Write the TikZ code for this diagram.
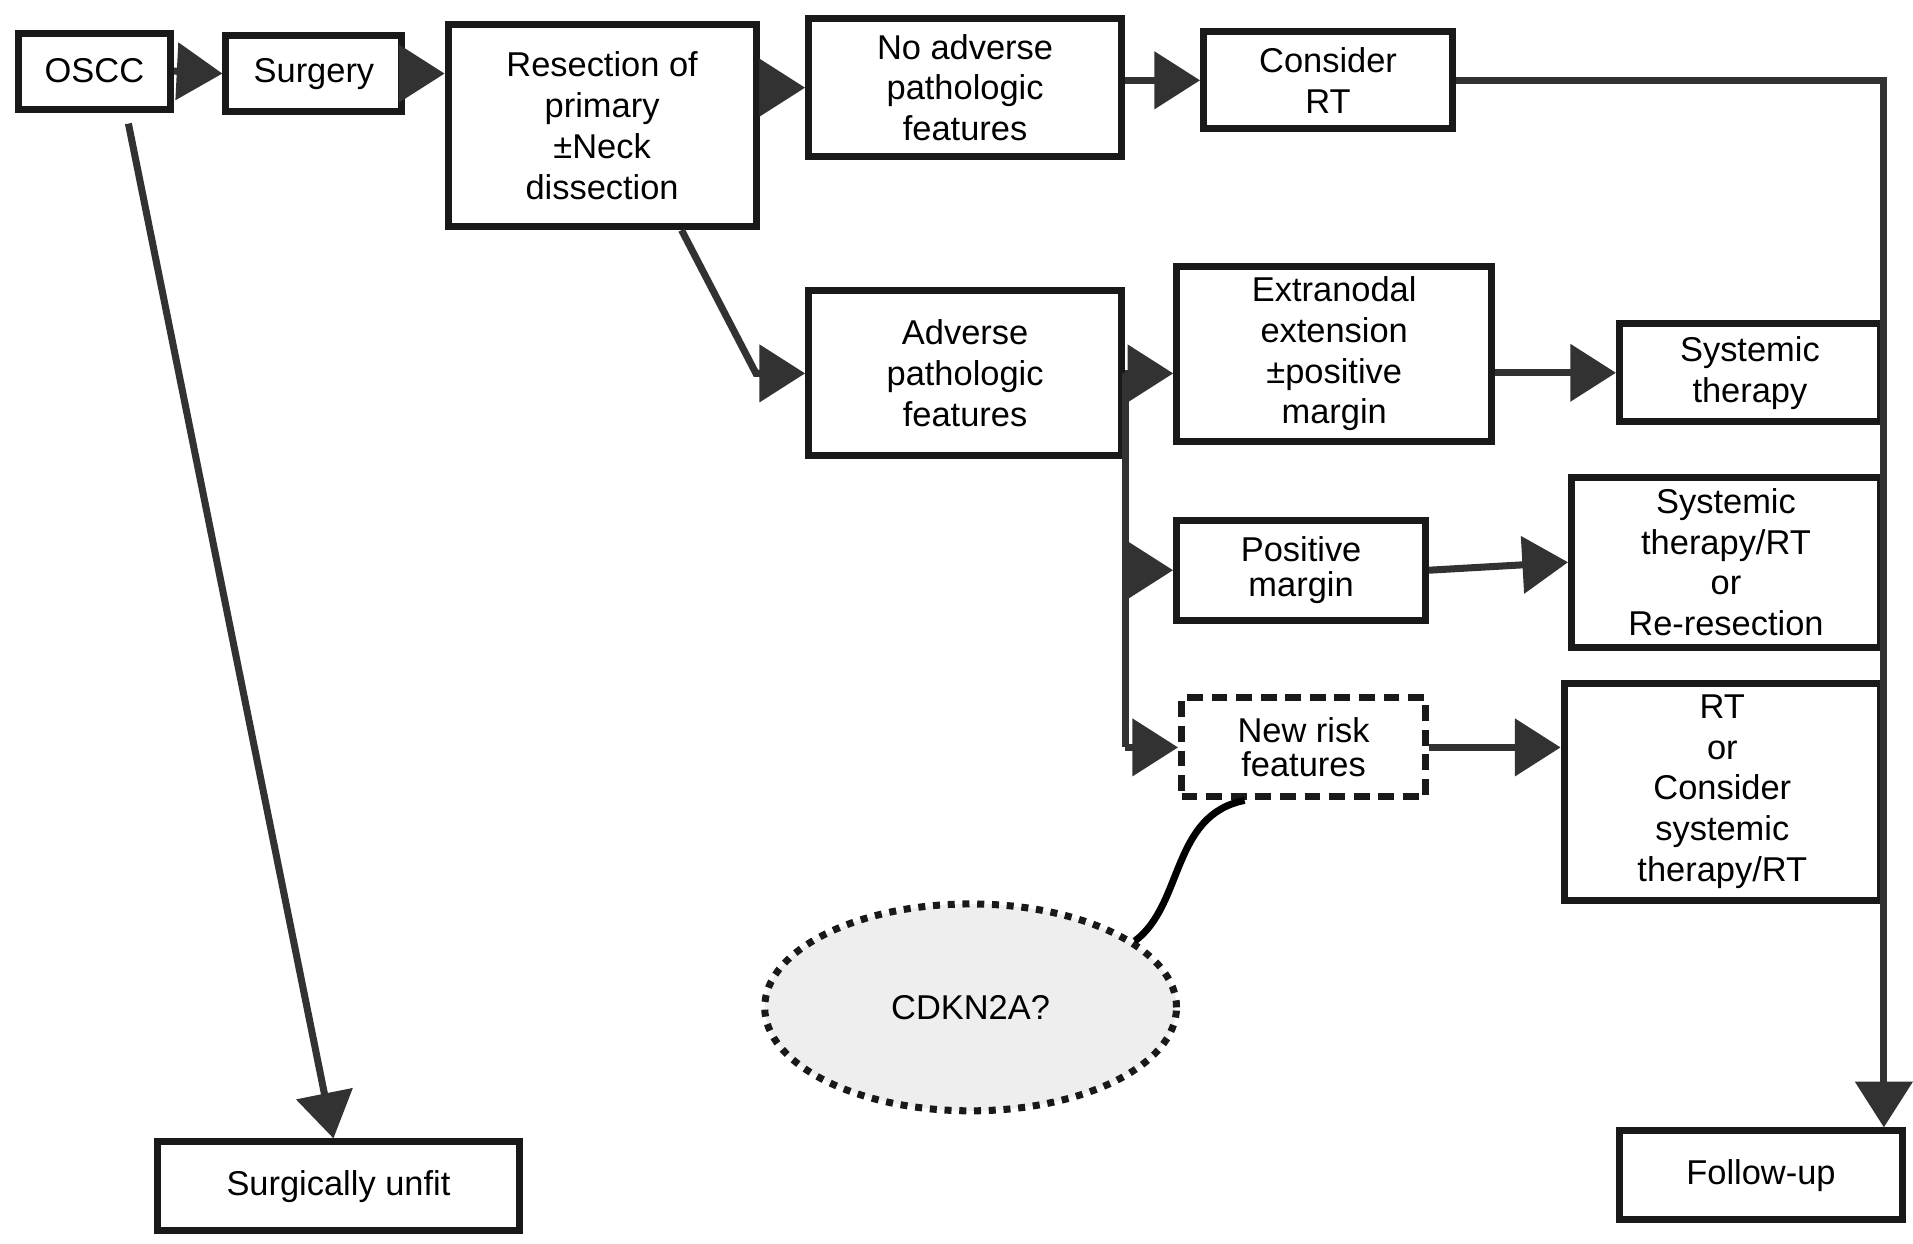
\documentclass[tikz,border=0pt]{standalone}
\usepackage{fontspec}
\setmainfont{Liberation Sans}
\usetikzlibrary{shapes.geometric, arrows.meta, positioning, calc}
\usepackage{xcolor}
\definecolor{boxblack}{RGB}{25,25,25}
\definecolor{linegray}{RGB}{50,50,50}
\definecolor{cdkfill}{RGB}{238,238,238}
\tikzstyle{box} = [draw=boxblack, line width=2pt, align=center, inner sep=2pt, font=\fontsize{9.8}{11.6}\selectfont]
\tikzstyle{tightbox} = [box, font=\fontsize{9.8}{9.8}\selectfont]
\tikzstyle{arrow} = [line width=2pt, linegray, -{Triangle[length=13pt,width=16pt]}]
\tikzstyle{flowline} = [line width=2pt, linegray]

\begin{document}
\begin{tikzpicture}[x=0.012263cm, y=-0.012263cm]
\useasboundingbox (0,0) rectangle (1560,1014.4);

% Top row
\node[box, minimum width=1.52cm, minimum height=0.76cm] (oscc) at (77,58) {OSCC};
\node[box, minimum width=1.76cm, minimum height=0.76cm] (surg) at (256,60) {Surgery};
\node[box, minimum width=3.08cm, minimum height=2.02cm] (res) at (491,102.5) {Resection of\\primary\\±Neck\\dissection};
\node[box, minimum width=3.13cm, minimum height=1.38cm] (noadv) at (787,71.5) {No adverse\\pathologic\\features};
\node[box, minimum width=2.49cm, minimum height=0.97cm] (crt) at (1083,65.5) {Consider\\RT};

% Adverse branch
\node[box, minimum width=3.13cm, minimum height=1.65cm] (adv) at (787,304.5) {Adverse\\pathologic\\features};
\node[box, minimum width=3.15cm, minimum height=1.75cm] (ext) at (1088,288.5) {Extranodal\\extension\\±positive\\margin};
\node[box, minimum width=2.61cm, minimum height=0.98cm] (sys) at (1427,304) {Systemic\\therapy};
\node[tightbox, minimum width=2.49cm, minimum height=1.0cm] (pm) at (1061,465) {Positive\\margin};
\node[box, minimum width=3.09cm, minimum height=1.70cm] (sysrt) at (1407.5,458.5) {Systemic\\therapy/RT\\or\\Re-resection};
\node[tightbox, dash pattern=on 4.5pt off 2.5pt, minimum width=2.44cm, minimum height=0.99cm] (nr) at (1063,609.5) {New risk\\features};
\node[box, minimum width=3.165cm, minimum height=2.17cm] (rt) at (1404.5,645.5) {RT\\or\\Consider\\systemic\\therapy/RT};

% Bottom
\node[ellipse, draw=boxblack, fill=cdkfill, line width=2pt, dash pattern=on 2pt off 2.2pt, minimum width=4.12cm, minimum height=2.07cm, font=\fontsize{9.8}{11.6}\selectfont] (cdk) at (791.5,821.5) {CDKN2A?};
\node[box, minimum width=2.83cm, minimum height=0.89cm] (fu) at (1436,958.5) {Follow-up};
\node[box, minimum width=3.62cm, minimum height=0.89cm] (unfit) at (276,967.5) {Surgically unfit};

% Main row arrows
\draw[arrow] (oscc.east) -- (surg.west);
\draw[arrow] (surg.east) -- (surg.east -| res.west);
\draw[arrow] (res.east |- noadv.west) -- (noadv.west);
\draw[arrow] (crt.west -| noadv.east) -- (crt.west);
\draw[arrow] ([xshift=-0.78cm]res.south east) -- ([xshift=-14pt]adv.west) -- (adv.west);

% Adverse features split
\draw[flowline] (adv.east) -- (adv.east |- nr.west);
\draw[arrow] (adv.east) -- (adv.east -| ext.west);
\foreach \target in {pm, nr}
    \draw[arrow] (adv.east |- \target.west) -- (\target.west);

% Treatments
\draw[arrow] (sys.west -| ext.east) -- (sys.west);
\draw[arrow] (pm.east) -- (sysrt.west);
\draw[arrow] (nr.east) -- (nr.east -| rt.west);

% To follow-up
\draw[arrow] (crt.east) -- (crt.east -| sys.east) -- (sys.east |- fu.north);

% Not operable
\draw[arrow] ([xshift=0.34cm,yshift=-0.11cm]oscc.south) -- ([xshift=-0.05cm]unfit.north);

% Marker link
\draw[line width=2pt, black] (cdk.22) .. controls +(40,-30) and +(-60,12) .. ([xshift=-0.59cm]nr.south);
\end{tikzpicture}
\end{document}
